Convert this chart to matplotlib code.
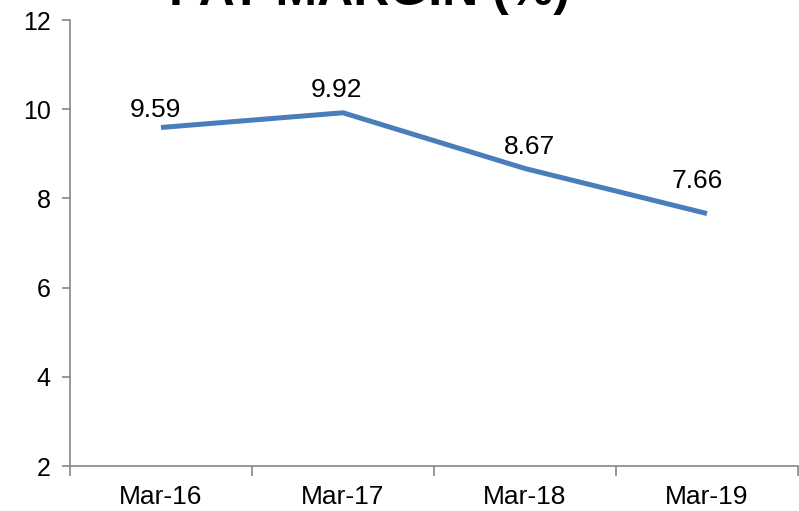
import matplotlib
matplotlib.use("Agg")
import matplotlib.pyplot as plt
from matplotlib.ticker import FixedLocator

categories = ["Mar-16", "Mar-17", "Mar-18", "Mar-19"]
pat_margin = [9.59, 9.92, 8.67, 7.66]
y_ticks = [2, 4, 6, 8, 10, 12]

# label nudges (points) relative to each data point
label_dx = [-4, -5, 3, -7]
label_dy = [4, 7.5, 7, 14.5]

plt.rcParams["font.family"] = ["Liberation Sans", "DejaVu Sans"]

fig = plt.figure(figsize=(7.99, 5.11), dpi=100)
ax = fig.add_axes([70 / 799, 1 - 466 / 511, 728 / 799, 446 / 511])

x = list(range(len(categories)))
ax.plot(x, pat_margin, color="#4a7ebb", linewidth=3.6, solid_capstyle="butt",
        solid_joinstyle="round")

for xi, v, dx, dy in zip(x, pat_margin, label_dx, label_dy):
    ax.annotate(f"{v:.2f}", (xi, v), xytext=(dx, dy), textcoords="offset points",
                ha="center", va="bottom", fontsize=19, color="black")

ax.set_xlim(-0.5, len(categories) - 0.5)
ax.set_ylim(2, 12)
ax.set_yticks(y_ticks)
ax.set_xticks(x)
ax.set_xticklabels(categories)
ax.xaxis.set_minor_locator(FixedLocator([i - 0.5 for i in range(len(categories) + 1)]))

spine_color = "#868686"
for side in ("top", "right"):
    ax.spines[side].set_visible(False)
for side in ("left", "bottom"):
    ax.spines[side].set_color(spine_color)
    ax.spines[side].set_linewidth(1.2)

ax.tick_params(axis="y", which="major", length=6, width=1.2, color=spine_color,
               labelsize=18, pad=8)
ax.tick_params(axis="x", which="major", length=0, labelsize=19, pad=14)
ax.tick_params(axis="x", which="minor", length=7, width=1.2, color=spine_color)

fig.text(369 / 799, 1 - 5 / 511, "PAT MARGIN (%)", ha="center", va="baseline",
         fontsize=36, fontweight="bold", color="black")

fig.savefig("out.png", dpi=100)
